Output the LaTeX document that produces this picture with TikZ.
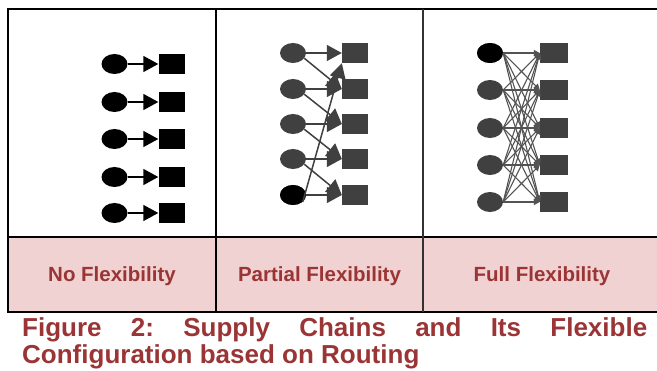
\documentclass[tikz,border=0pt]{standalone}
\usepackage{fontspec}
\setmainfont{Liberation Sans}
\usetikzlibrary{shapes.geometric,arrows.meta}
\definecolor{capred}{HTML}{9B3535}
\definecolor{rowpink}{HTML}{F0D2D2}
\definecolor{darkgr}{HTML}{404040}
\tikzset{
  frame/.style={line width=2.4pt,draw=black},
  site/.style={ellipse,fill=#1,draw=none,minimum width=26pt,minimum height=20pt,inner sep=0pt},
  sink/.style={rectangle,fill=#1,draw=none,minimum width=26pt,minimum height=20pt,inner sep=0pt},
  link/.style={draw=#1,fill=#1,line width=1.5pt,-{Triangle[length=15pt,width=16pt]}},
  meshlink/.style={draw=darkgr!90,line width=1.1pt,-{Triangle[length=6pt,width=6pt]}},
  rowlabel/.style={text=capred,font=\fontsize{20.5}{24}\selectfont\bfseries,anchor=base,inner sep=0pt},
  captext/.style={text=capred,font=\fontsize{26}{28}\selectfont\bfseries\frenchspacing,anchor=base west,inner sep=0pt}
}
\begin{document}
\begin{tikzpicture}[x=1pt,y=-1pt]
\useasboundingbox (0,0) rectangle (657,371);
% table body and label row
\fill[rowpink] (8,237) rectangle (660,312);
\draw[frame] (660,9) -- (8,9) -- (8,312) -- (660,312);
\draw[frame] (8,237) -- (660,237);
\draw[frame] (216,9) -- (216,312);
\draw[frame,draw=black!80] (423,9) -- (423,312);

% no flexibility: one plant per market
\foreach \i/\y in {1/64,2/102,3/139,4/177,5/213}{
  \node[site=black] (a\i) at (114.5,\y) {};
  \node[sink=black] (s\i) at (171.5,\y) {};
  \draw[link=black] (a\i.east) -- (s\i.west);
}

% partial flexibility: chained links
\foreach \i/\y in {1/53,2/89,3/124,4/159,5/195}{
  \node[site=darkgr] (b\i) at (293,\y) {};
  \node[sink=darkgr] (t\i) at (355,\y) {};
}
\node[site=black] at (b5) {};
\foreach \i in {1,...,5}{ \draw[link=darkgr] (b\i.east) -- (t\i.west); }
\foreach \i/\j in {1/2,2/3,3/4,4/5}{ \draw[link=darkgr] (b\i.-25) -- (t\j.west); }
\draw[link=darkgr] (b5.-35) -- (t1.south west);

% full flexibility: every plant to every market
\foreach \i/\y in {1/53,2/90,3/128,4/165,5/202}{
  \node[site=darkgr] (c\i) at (490,\y) {};
  \node[sink=darkgr,minimum width=28pt] (u\i) at (554,\y) {};
}
\node[site=black] at (c1) {};
\foreach \i in {1,...,5}{
  \foreach \j in {1,...,5}{
    \draw[meshlink] (c\i.east) -- (u\j.west);
  }
}

% row labels
\node[rowlabel] (l1) at (112,282) {No Flexibility};
\node[rowlabel] (l2) at (319.5,282) {Partial Flexibility};
\node[rowlabel] (l3) at (542,282) {Full Flexibility};

% caption
\node[captext] (cap1) at (22,336.5) {\makebox[625pt][s]{Figure 2: Supply Chains and Its Flexible}};
\node[captext] (cap2) at (22,364) {Configuration based on Routing};
\end{tikzpicture}
\end{document}
